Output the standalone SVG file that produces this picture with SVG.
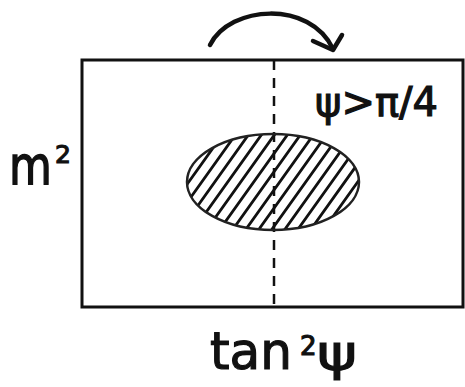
<svg xmlns="http://www.w3.org/2000/svg" width="465" height="387" viewBox="0 0 465 387">
<style>
.frame{fill:none;stroke:#111;stroke-width:3;stroke-linecap:round}
.dash{fill:none;stroke:#111;stroke-width:2.5;stroke-dasharray:10 8}
.hatch{stroke:#111;stroke-width:2.8;stroke-linecap:round}
.lbl{font-family:"DejaVu Sans",sans-serif;fill:#111;stroke:#111;stroke-width:1.2}
</style>
<defs>
<clipPath id="ec"><ellipse cx="273" cy="182" rx="86" ry="48"/></clipPath>
</defs>
<rect width="465" height="387" fill="#fff"/>
<g id="frame"><path class="frame" d="M82 60 L463 60 L463 307 L82 307 Z"/></g>
<g id="axis"><line class="dash" x1="274" y1="60" x2="274" y2="307"/></g>
<g id="region">
<g clip-path="url(#ec)">
<g class="hatch">
<line x1="120" y1="260" x2="220" y2="120"/>
<line x1="133" y1="260" x2="233" y2="120"/>
<line x1="146" y1="260" x2="246" y2="120"/>
<line x1="159" y1="260" x2="259" y2="120"/>
<line x1="172" y1="260" x2="272" y2="120"/>
<line x1="185" y1="260" x2="285" y2="120"/>
<line x1="198" y1="260" x2="298" y2="120"/>
<line x1="211" y1="260" x2="311" y2="120"/>
<line x1="224" y1="260" x2="324" y2="120"/>
<line x1="237" y1="260" x2="337" y2="120"/>
<line x1="250" y1="260" x2="350" y2="120"/>
<line x1="263" y1="260" x2="363" y2="120"/>
<line x1="276" y1="260" x2="376" y2="120"/>
<line x1="289" y1="260" x2="389" y2="120"/>
<line x1="302" y1="260" x2="402" y2="120"/>
<line x1="315" y1="260" x2="415" y2="120"/>
</g>
</g>
<ellipse cx="273" cy="182" rx="86" ry="48" fill="none" stroke="#222" stroke-width="2.5"/>
</g>
<g id="connectors">
<path d="M210 45 C230 5 310 0 333 49" fill="none" stroke="#111" stroke-width="4.5" stroke-linecap="round"/>
<path d="M313 41 L333 50 L342 35" fill="none" stroke="#111" stroke-width="4.5" stroke-linecap="round" stroke-linejoin="round"/>
</g>
<g id="labels">
<text class="lbl" x="315" y="116" font-size="40" textLength="123" lengthAdjust="spacingAndGlyphs">ψ&gt;π/4</text>
<text class="lbl" transform="translate(9,184) scale(1,1.22)" x="0" y="0" font-size="44">m</text>
<text class="lbl" x="55" y="163" font-size="25">2</text>
<text class="lbl" x="210" y="369" font-size="52" textLength="82" lengthAdjust="spacingAndGlyphs">tan</text>
<text class="lbl" x="300" y="355" font-size="26">2</text>
<text class="lbl" x="317" y="370" font-size="50" textLength="40" lengthAdjust="spacingAndGlyphs">ψ</text>
</g>
</svg>
